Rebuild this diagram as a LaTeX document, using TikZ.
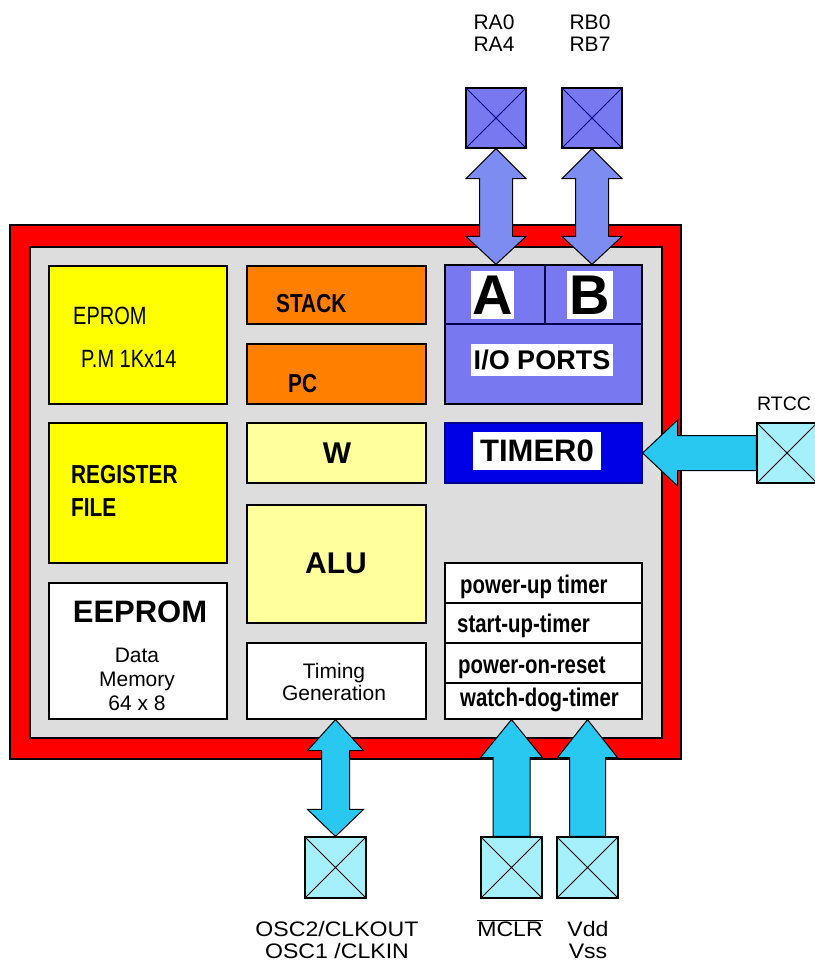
\documentclass[tikz,border=0pt]{standalone}
\usepackage{fontspec}
\setmainfont{Liberation Sans}
\newfontfamily\cnd[FakeStretch=0.8]{Liberation Sans}
\newfontfamily\wid[FakeStretch=1.1]{Liberation Sans}
\usetikzlibrary{calc}
\definecolor{chipred}{RGB}{255,0,0}
\definecolor{chipgray}{RGB}{221,221,221}
\definecolor{yel}{RGB}{255,255,0}
\definecolor{lyel}{RGB}{255,255,155}
\definecolor{orng}{RGB}{255,128,0}
\definecolor{peri}{RGB}{120,120,240}
\definecolor{periarrow}{RGB}{125,140,240}
\definecolor{tblue}{RGB}{0,0,230}
\definecolor{cyarrow}{RGB}{40,200,240}
\definecolor{cypin}{RGB}{165,240,250}
\newcommand\fsz[1]{\fontsize{#1}{#1}\selectfont}
% double vertical arrow: style, top tip, bottom tip, shaft half, head half, top head len, bottom head len
\newcommand\mydbl[7]{\draw[#1] (#2) -- ($(#2)+(#5,-#6)$) -- ($(#2)+(#4,-#6)$) -- ($(#3)+(#4,#7)$) -- ($(#3)+(#5,#7)$) -- (#3) -- ($(#3)+(-#5,#7)$) -- ($(#3)+(-#4,#7)$) -- ($(#2)+(-#4,-#6)$) -- ($(#2)+(-#5,-#6)$) -- cycle;}
% up arrow: style, tip, tail, shaft half, head half, head len
\newcommand\myup[6]{\draw[#1] (#2) -- ($(#2)+(#5,-#6)$) -- ($(#2)+(#4,-#6)$) -- ($(#3)+(#4,0)$) -- ($(#3)+(-#4,0)$) -- ($(#2)+(-#4,-#6)$) -- ($(#2)+(-#5,-#6)$) -- cycle;}
% left arrow: style, tip, tail, shaft half, head half, head len
\newcommand\myleft[6]{\draw[#1] (#2) -- ($(#2)+(#6,#5)$) -- ($(#2)+(#6,#4)$) -- ($(#3)+(0,#4)$) -- ($(#3)+(0,-#4)$) -- ($(#2)+(#6,-#4)$) -- ($(#2)+(#6,-#5)$) -- cycle;}
\begin{document}
\begin{tikzpicture}[x=1pt,y=1pt,
  blk/.style={draw=black, line width=1.2pt, rectangle, inner sep=0pt},
  wbox/.style={fill=white, rectangle, inner sep=0pt},
  pinbox/.style={draw=black, line width=1.2pt, rectangle, inner sep=0pt, minimum width=60pt, minimum height=60pt},
  txt/.style={inner sep=0pt, anchor=base},
  txtw/.style={inner sep=0pt, anchor=base west},
  cyarr/.style={fill=cyarrow, draw=black, line width=1pt, line join=miter},
  parr/.style={fill=periarrow, draw=black, line width=1pt, line join=miter}]
\useasboundingbox (0,0) rectangle (814,-963);
\fill[white] (0,0) rectangle (814,-963);
% chip frame
\node[blk, fill=chipred, minimum width=671pt, minimum height=534pt] (frame) at (345.5,-492) {};
\node[blk, fill=chipgray, minimum width=632pt, minimum height=491pt] (core) at (346,-492.5) {};
% left column
\node[blk, fill=yel, minimum width=178pt, minimum height=138pt] (eprom) at (138,-335) {};
\node[txtw, font=\cnd\fsz{25}] (teprom) at (73,-324) {EPROM};
\node[txtw, font=\cnd\fsz{25}] (tpm) at (81,-367) {P.M 1Kx14};
\node[blk, fill=yel, minimum width=178pt, minimum height=140pt] (regf) at (138,-493) {};
\node[txtw, font=\cnd\bfseries\fsz{26}] (treg) at (71,-483) {REGISTER};
\node[txtw, font=\cnd\bfseries\fsz{26}] (tfile) at (71,-516) {FILE};
\node[blk, fill=white, minimum width=178pt, minimum height=136pt] (eeprom) at (138,-651) {};
\node[txt, font=\bfseries\fsz{31}] (teeprom) at (140,-622) {EEPROM};
\node[txt, font=\fsz{21}] (tdata) at (137,-662) {Data};
\node[txt, font=\fsz{21}] (tmem) at (137,-686) {Memory};
\node[txt, font=\fsz{21}] (t648) at (137,-710) {64 x 8};
% middle column
\node[blk, fill=orng, minimum width=179pt, minimum height=58pt] (stack) at (336.5,-295) {};
\node[txtw, font=\cnd\bfseries\fsz{26}] (tstack) at (276,-312) {STACK};
\node[blk, fill=orng, minimum width=179pt, minimum height=60pt] (pc) at (336.5,-374) {};
\node[txtw, font=\cnd\bfseries\fsz{26}] (tpc) at (288,-392) {PC};
\node[blk, fill=lyel, minimum width=179pt, minimum height=60pt] (wreg) at (336.5,-453) {};
\node[txt, font=\bfseries\fsz{30}] (tw) at (337,-463) {W};
\node[blk, fill=lyel, minimum width=179pt, minimum height=118pt] (alu) at (336.5,-564) {};
\node[txt, font=\bfseries\fsz{30}] (talu) at (336,-573) {ALU};
\node[blk, fill=white, minimum width=179pt, minimum height=76pt] (timing) at (336.5,-681) {};
\node[txt, font=\fsz{21}] (ttim) at (334,-678) {Timing};
\node[txt, font=\fsz{21}] (tgen) at (334,-700) {Generation};
% right column
\node[blk, fill=peri, minimum width=197pt, minimum height=139pt] (io) at (543.5,-334.5) {};
\draw[draw=black!70!blue, line width=1.2pt] (io.west |- 0,-324) coordinate (ioL) -- (io.east |- ioL);
\draw[draw=black!70!blue, line width=1.2pt] (545,-324) coordinate (ioM) -- (ioM |- io.north);
\node[wbox, minimum width=43pt, minimum height=48pt, font=\bfseries\fsz{56}] (portA) at (492.5,-295) {A};
\node[wbox, minimum width=46pt, minimum height=48pt, font=\bfseries\fsz{56}] (portB) at (590,-295) {B};
\node[wbox, minimum width=142pt, minimum height=32pt, font=\bfseries\fsz{27}] (tio) at (542,-360) {I/O PORTS};
\node[blk, fill=tblue, draw=tblue!60!black, minimum width=197pt, minimum height=60pt] (timer) at (543.5,-453) {};
\node[wbox, minimum width=128pt, minimum height=38pt, font=\bfseries\fsz{31}] (ttimer) at (537,-451) {TIMER0};
\node[blk, fill=white, minimum width=197pt, minimum height=40pt] (pw1) at (543.5,-583) {};
\node[blk, fill=white, minimum width=197pt, minimum height=40pt] (pw2) at (543.5,-623) {};
\node[blk, fill=white, minimum width=197pt, minimum height=40pt] (pw3) at (543.5,-663) {};
\node[blk, fill=white, minimum width=197pt, minimum height=36pt] (pw4) at (543.5,-701) {};
\node[txtw, font=\cnd\bfseries\fsz{25.5}] (tpw1) at (460,-593) {power-up timer};
\node[txtw, font=\cnd\bfseries\fsz{25.5}] (tpw2) at (457,-632) {start-up-timer};
\node[txtw, font=\cnd\bfseries\fsz{25.5}] (tpw3) at (458,-673) {power-on-reset};
\node[txtw, font=\cnd\bfseries\fsz{25.5}] (tpw4) at (460,-706) {watch-dog-timer};
% pins
\node[pinbox, fill=peri] (pinA) at (496,-118) {};
\node[pinbox, fill=peri] (pinB) at (592,-118) {};
\node[pinbox, fill=cypin] (pinR) at (787,-453) {};
\node[pinbox, fill=cypin, minimum width=61pt, minimum height=61pt] (pinO) at (335.5,-867.5) {};
\node[pinbox, fill=cypin, minimum width=61pt, minimum height=61pt] (pinM) at (511.5,-867.5) {};
\node[pinbox, fill=cypin, minimum width=61pt, minimum height=61pt] (pinV) at (587.5,-867.5) {};
\foreach \p in {pinA,pinB} {
  \draw[blue!50!black, line width=0.8pt] (\p.north west) -- (\p.south east) (\p.north east) -- (\p.south west);
}
\foreach \p in {pinR,pinO,pinM,pinV} {
  \draw[black, line width=0.8pt] (\p.north west) -- (\p.south east) (\p.north east) -- (\p.south west);
}
% arrows
\coordinate (aTop) at (pinA.south);
\coordinate (aBot) at (pinA.south |- io.north);
\coordinate (bTop) at (pinB.south);
\coordinate (bBot) at (pinB.south |- io.north);
\mydbl{parr}{aTop}{aBot}{16.5}{30}{30}{28}
\mydbl{parr}{bTop}{bBot}{16.5}{30}{30}{28}
\coordinate (oTop) at (pinO.north |- timing.south);
\coordinate (oBot) at (pinO.north);
\mydbl{cyarr}{oTop}{oBot}{14}{28}{31}{27}
\coordinate (mTip) at (pinM.north |- pw4.south);
\coordinate (mTail) at (pinM.north);
\myup{cyarr}{mTip}{mTail}{18.5}{31}{38}
\coordinate (vTip) at (pinV.north |- pw4.south);
\coordinate (vTail) at (pinV.north);
\myup{cyarr}{vTip}{vTail}{18}{30}{38}
\coordinate (rTip) at (timer.east);
\coordinate (rTail) at (pinR.west);
\myleft{cyarr}{rTip}{rTail}{17.5}{33}{35}
% pin labels
\node[txt, font=\fsz{21}] (lra0) at (494,-30) {RA0};
\node[txt, font=\fsz{21}] (lra4) at (494,-52) {RA4};
\node[txt, font=\fsz{21}] (lrb0) at (590,-30) {RB0};
\node[txt, font=\fsz{21}] (lrb7) at (590,-52) {RB7};
\node[txtw, font=\fsz{19.5}] (lrtcc) at (757,-410) {RTCC};
\node[txt, font=\wid\fsz{21}] (losc2) at (337,-936) {OSC2/CLKOUT};
\node[txt, font=\wid\fsz{21}] (losc1) at (337,-958) {OSC1 /CLKIN};
\node[txt, font=\wid\fsz{21}] (lmclr) at (510,-936) {$\overline{\hbox{\wid\fsz{21}MCLR}}$};
\node[txt, font=\wid\fsz{21}] (lvdd) at (588,-936) {Vdd};
\node[txt, font=\wid\fsz{21}] (lvss) at (588,-958) {Vss};
\end{tikzpicture}
\end{document}
